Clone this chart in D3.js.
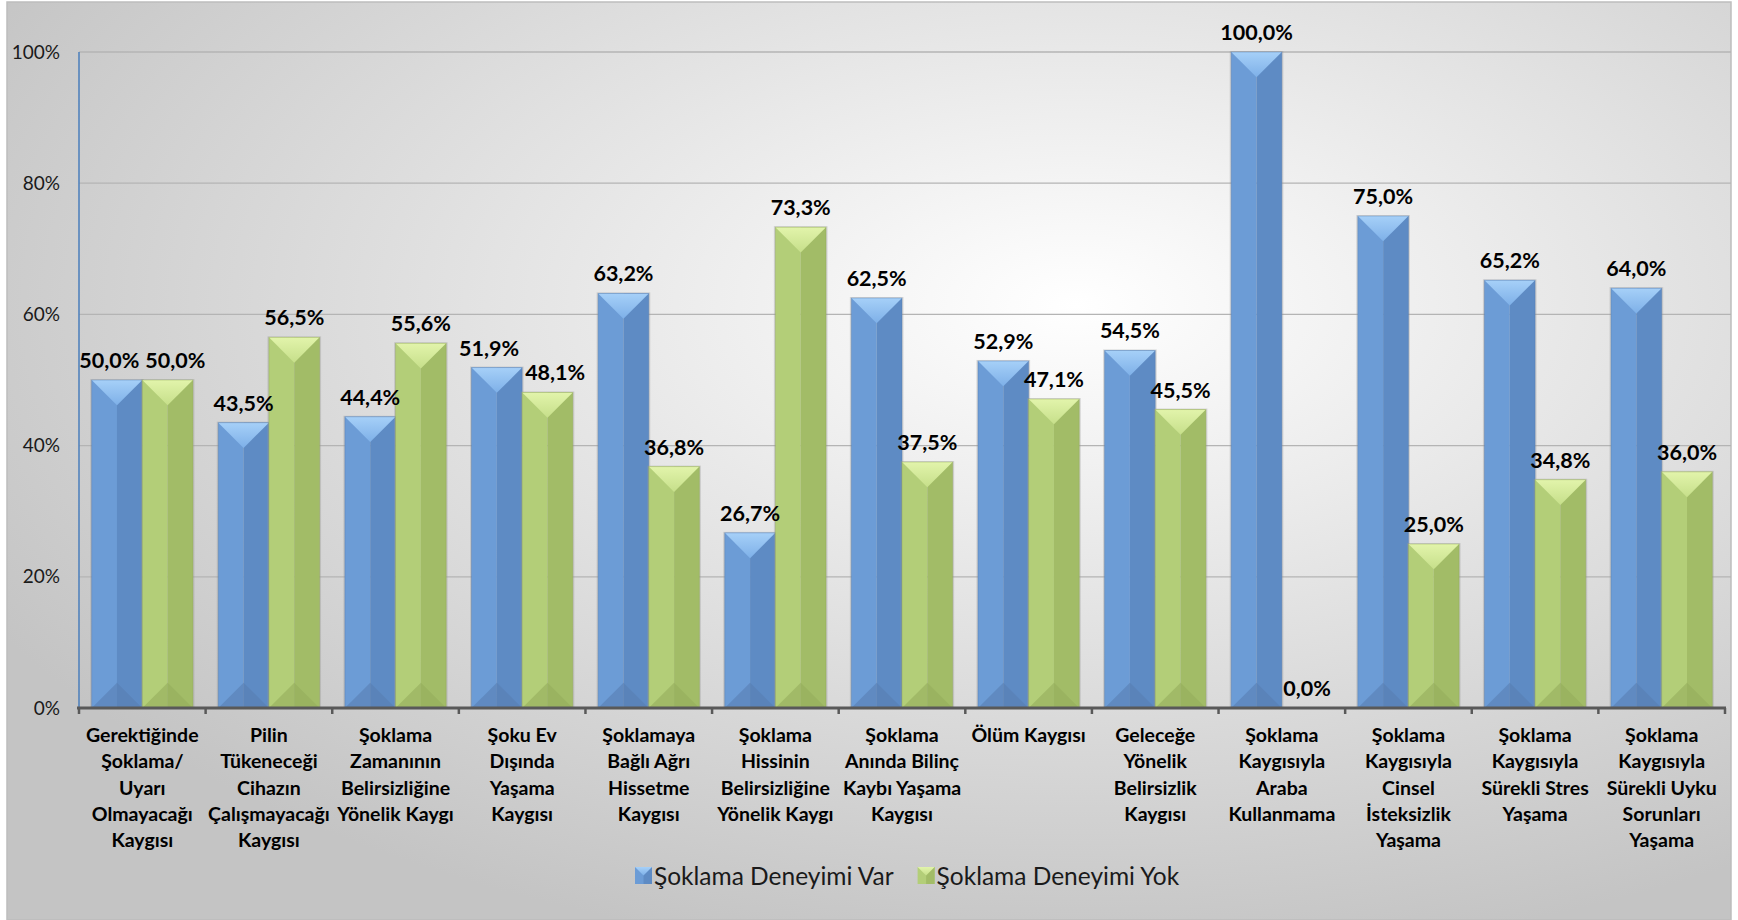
<!DOCTYPE html>
<html>
<head>
<meta charset="utf-8">
<script src="https://cdn.jsdelivr.net/npm/d3@7"></script>
<style>
  body { margin: 0; background: #fff; }
  svg { display: block; }
</style>
</head>
<body>
<svg id="chart" width="1738" height="920"></svg>
<script>
// categories (line breaks as in the original axis)
const categories = [
    ["Gerektiğinde", "Şoklama/", "Uyarı", "Olmayacağı", "Kaygısı"],
    ["Pilin", "Tükeneceği", "Cihazın", "Çalışmayacağı", "Kaygısı"],
    ["Şoklama", "Zamanının", "Belirsizliğine", "Yönelik Kaygı"],
    ["Şoku Ev", "Dışında", "Yaşama", "Kaygısı"],
    ["Şoklamaya", "Bağlı Ağrı", "Hissetme", "Kaygısı"],
    ["Şoklama", "Hissinin", "Belirsizliğine", "Yönelik Kaygı"],
    ["Şoklama", "Anında Bilinç", "Kaybı Yaşama", "Kaygısı"],
    ["Ölüm Kaygısı"],
    ["Geleceğe", "Yönelik", "Belirsizlik", "Kaygısı"],
    ["Şoklama", "Kaygısıyla", "Araba", "Kullanmama"],
    ["Şoklama", "Kaygısıyla", "Cinsel", "İsteksizlik", "Yaşama"],
    ["Şoklama", "Kaygısıyla", "Sürekli Stres", "Yaşama"],
    ["Şoklama", "Kaygısıyla", "Sürekli Uyku", "Sorunları", "Yaşama"]
];
const seriesNames = ["Şoklama Deneyimi Var", "Şoklama Deneyimi Yok"];
const deneyimVar = [50.0, 43.5, 44.4, 51.9, 63.2, 26.7, 62.5, 52.9, 54.5, 100.0, 75.0, 65.2, 64.0];
const deneyimYok = [50.0, 56.5, 55.6, 48.1, 36.8, 73.3, 37.5, 47.1, 45.5, 0.0, 25.0, 34.8, 36.0];
const yTicks = [0, 20, 40, 60, 80, 100];

const svg = d3.select("#chart");
const W = 1738, H = 920;
const margin = { left: 79, right: 13, top: 52, bottom: 212 };
const x0 = margin.left, x1 = W - margin.right;
const yTop = margin.top, yBot = H - margin.bottom;

const font = "Lato, 'Open Sans', sans-serif";

const palettes = [
    { left: "#6c9cd6", right: "#5e8bc4", top1: "#a6d0f8", top2: "#7eb0e8", bottom: "#587fb3", edge: "#4f79ad" },
    { left: "#b3ce78", right: "#a2bc67", top1: "#e2f4ab", top2: "#c6df8a", bottom: "#94ad5c", edge: "#8ea656" }
];

const defs = svg.append("defs");
const bg = defs.append("radialGradient").attr("id", "bg")
    .attr("cx", "62%").attr("cy", "33%").attr("r", "72%");
bg.append("stop").attr("offset", "0%").attr("stop-color", "#ffffff");
bg.append("stop").attr("offset", "100%").attr("stop-color", "#c4c4c4");

palettes.forEach((p, i) => {
    const g = defs.append("linearGradient").attr("id", "top" + i)
        .attr("x1", 0).attr("y1", 0).attr("x2", 0).attr("y2", 1);
    g.append("stop").attr("offset", "0%").attr("stop-color", p.top1);
    g.append("stop").attr("offset", "100%").attr("stop-color", p.top2);
});

svg.append("rect").attr("x", 7).attr("y", 2).attr("width", 1724).attr("height", 918)
    .attr("fill", "url(#bg)").attr("stroke", "#bdbdbd").attr("stroke-width", 1.5);

const x = d3.scaleBand().domain(d3.range(categories.length)).range([x0, x1]);
const inner = d3.scaleBand().domain([0, 1]).range([0, x.bandwidth()]).paddingOuter(0.25).paddingInner(0);
const y = d3.scaleLinear().domain([0, 100]).range([yBot, yTop]);

// gridlines
svg.append("g")
    .selectAll("line").data(yTicks.filter(d => d > 0)).join("line")
    .attr("x1", x0).attr("x2", 1731)
    .attr("y1", d => y(d)).attr("y2", d => y(d))
    .attr("stroke", "#b4b4b4").attr("stroke-width", 1.3);

// y axis labels
const yAxis = d3.axisLeft(y).tickValues(yTicks).tickFormat(d => d + "%").tickSize(0).tickPadding(19);
const gy = svg.append("g").attr("transform", `translate(${x0},0)`).call(yAxis);
gy.select(".domain").remove();
gy.selectAll("text").attr("font-family", font).attr("font-size", 19).attr("fill", "#1a1a1a");

svg.append("line").attr("x1", x0).attr("x2", x0).attr("y1", yTop).attr("y2", yBot)
    .attr("stroke", "#4a7ebb").attr("stroke-width", 1.5);

// bars
const rows = [];
categories.forEach((c, i) => {
    rows.push({ i, s: 0, v: deneyimVar[i] });
    rows.push({ i, s: 1, v: deneyimYok[i] });
});

const barG = svg.append("g");
rows.forEach(d => {
    const bx = x(d.i) + inner(d.s);
    const bw = inner.bandwidth();
    const top = y(d.v), bot = y(0);
    const h = bot - top;
    if (h <= 0) return;
    const p = palettes[d.s];
    const g = barG.append("g");
    const b = Math.min(bw / 2, h / 2);
    const mid = bx + bw / 2;
    g.append("rect").attr("x", bx - 1.5).attr("y", top - 1).attr("width", bw + 3).attr("height", h + 1)
        .attr("fill", "#9a9a9a").attr("opacity", 0.35);
    g.append("rect").attr("x", bx).attr("y", top).attr("width", bw / 2).attr("height", h).attr("fill", p.left);
    g.append("rect").attr("x", mid).attr("y", top).attr("width", bw / 2).attr("height", h).attr("fill", p.right);
    g.append("path").attr("d", `M${bx},${top} L${bx + bw},${top} L${mid},${top + b} Z`).attr("fill", `url(#top${d.s})`);
    g.append("path").attr("d", `M${bx},${bot} L${bx + bw},${bot} L${mid},${bot - b} Z`).attr("fill", p.bottom).attr("opacity", 0.6);
    g.append("rect").attr("x", bx).attr("y", top).attr("width", bw).attr("height", h)
        .attr("fill", "none").attr("stroke", p.edge).attr("stroke-opacity", 0.4).attr("stroke-width", 1);
});

// value labels
const labels = svg.append("g").selectAll("text").data(rows).join("text")
    .attr("x", d => x(d.i) + inner(d.s) + inner.bandwidth() / 2)
    .attr("y", d => y(d.v) - 12)
    .attr("text-anchor", "middle")
    .attr("font-family", font).attr("font-weight", "bold").attr("font-size", 21.5)
    .attr("fill", "#000")
    .text(d => d.v.toFixed(1).replace(".", ",") + "%");

// push apart labels of the same category when they collide
const nodes = labels.nodes();
for (let k = 0; k < nodes.length; k += 2) {
    const a = nodes[k], b = nodes[k + 1];
    const ba = a.getBBox(), bb = b.getBBox();
    const vOverlap = Math.min(ba.y + ba.height, bb.y + bb.height) - Math.max(ba.y, bb.y);
    const hOverlap = (ba.x + ba.width) - bb.x + 6;
    if (vOverlap > 0 && hOverlap > 0) {
        a.setAttribute("x", +a.getAttribute("x") - hOverlap / 2);
        b.setAttribute("x", +b.getAttribute("x") + hOverlap / 2);
    }
}

// x axis baseline with ticks
svg.append("line").attr("x1", x0 - 2).attr("x2", x1 + 1).attr("y1", yBot).attr("y2", yBot)
    .attr("stroke", "#595959").attr("stroke-width", 3);
svg.append("g").selectAll("line").data(d3.range(categories.length + 1)).join("line")
    .attr("x1", d => x0 + d * x.step()).attr("x2", d => x0 + d * x.step())
    .attr("y1", yBot).attr("y2", yBot + 6)
    .attr("stroke", "#595959").attr("stroke-width", 2.5);

// category labels
const catG = svg.append("g").selectAll("text").data(categories).join("text")
    .attr("x", (d, i) => x(i) + x.bandwidth() / 2)
    .attr("y", yBot + 34)
    .attr("text-anchor", "middle")
    .attr("font-family", font).attr("font-weight", "bold").attr("font-size", 19.5)
    .attr("fill", "#000");
catG.selectAll("tspan").data(d => d).join("tspan")
    .attr("x", function () { return d3.select(this.parentNode).attr("x"); })
    .attr("dy", (d, i) => i === 0 ? 0 : 26.3)
    .text(d => d);

// legend
const legend = svg.append("g").attr("transform", "translate(635,885)");
let lx = 0;
seriesNames.forEach((name, i) => {
    const p = palettes[i];
    const item = legend.append("g").attr("transform", `translate(${lx},0)`);
    item.append("rect").attr("x", 0).attr("y", -18).attr("width", 17).attr("height", 17).attr("fill", p.left);
    item.append("rect").attr("x", 8.5).attr("y", -18).attr("width", 8.5).attr("height", 17).attr("fill", p.right);
    item.append("path").attr("d", "M0,-18 L17,-18 L8.5,-9.5 Z").attr("fill", `url(#top${i})`);
    const t = item.append("text").attr("x", 19).attr("y", 0)
        .attr("font-family", font).attr("font-size", 24.5).attr("fill", "#1a1a1a").text(name);
    lx += 19 + t.node().getComputedTextLength() + 24;
});
</script>
</body>
</html>
